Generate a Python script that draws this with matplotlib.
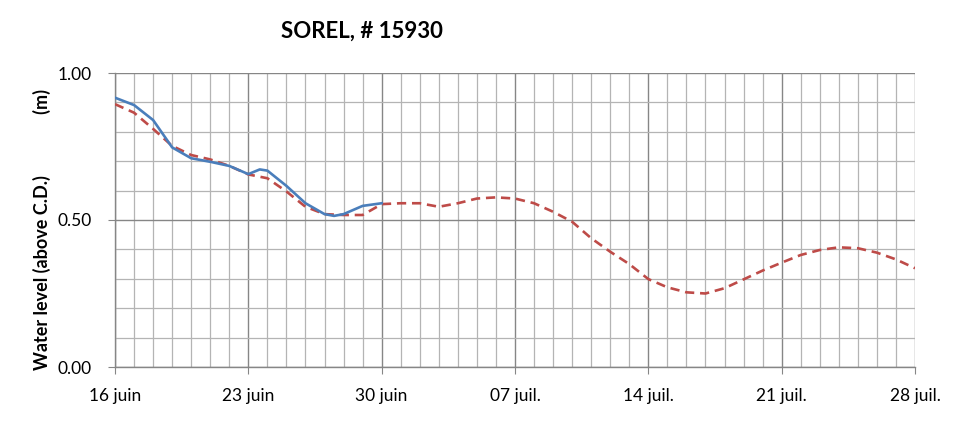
import numpy as np
import matplotlib
matplotlib.use("Agg")
import matplotlib.pyplot as plt
from matplotlib.ticker import MultipleLocator, FixedLocator

# days counted from 16 juin
obs_days = [0, 1, 2, 3, 4, 5, 6, 7, 7.6, 8, 9, 10, 11, 11.5, 12, 13, 14]
obs_level = [0.916, 0.891, 0.84, 0.747, 0.71, 0.698, 0.684, 0.656, 0.672, 0.668,
             0.616, 0.557, 0.52, 0.514, 0.52, 0.548, 0.557]

pred_days = list(range(0, 43))
pred_level = [0.894, 0.865, 0.81, 0.752, 0.721, 0.706, 0.684, 0.655, 0.642, 0.597,
              0.545, 0.52, 0.517, 0.517, 0.554, 0.557, 0.557, 0.545, 0.557, 0.573,
              0.577, 0.573, 0.557, 0.528, 0.494, 0.438, 0.392, 0.35, 0.299, 0.271,
              0.254, 0.25, 0.268, 0.298, 0.328, 0.355, 0.381, 0.398, 0.407, 0.404,
              0.389, 0.366, 0.336]

tick_days = [0, 7, 14, 21, 28, 35, 42]
tick_labels = ["16 juin", "23 juin", "30 juin", "07 juil.", "14 juil.", "21 juil.", "28 juil."]

plt.rcParams['font.family'] = ['Lato', 'DejaVu Sans']

fig = plt.figure(figsize=(9.69, 4.21), dpi=100)
ax = fig.add_axes([115 / 969, 54 / 421, 800 / 969, 294 / 421])

ax.plot(pred_days, pred_level, color="#BE4B48", lw=1.9, ls=(0, (3.5, 2.2)), zorder=3)
ax.plot(obs_days, obs_level, color="#4A7EBB", lw=1.9, zorder=4)

ax.set_xlim(0, 42)
ax.set_ylim(0, 1.0)

ax.xaxis.set_major_locator(FixedLocator(tick_days))
ax.set_xticklabels(tick_labels)
ax.xaxis.set_minor_locator(MultipleLocator(1))
ax.yaxis.set_major_locator(FixedLocator([0, 0.5, 1.0]))
ax.set_yticklabels(["0.00", "0.50", "1.00"])
ax.yaxis.set_minor_locator(MultipleLocator(0.1))

ax.grid(which="minor", color="#B4B4B4", lw=0.9)
ax.grid(which="major", color="#868686", lw=1.0)
ax.set_axisbelow(True)

for s in ["top", "right"]:
    ax.spines[s].set_visible(False)
for s in ["left", "bottom"]:
    ax.spines[s].set_color("#868686")
    ax.spines[s].set_linewidth(1.0)

ax.tick_params(which="major", length=5, color="#868686", labelsize=12.5)
ax.tick_params(which="minor", length=0)
ax.tick_params(axis="x", pad=10)
ax.tick_params(axis="y", pad=12)

fig.text(362 / 969, 1 - 31 / 421, "SOREL, # 15930", ha="center", va="center",
         fontsize=16, fontweight="bold")
fig.text(42 / 969, 1 - 229 / 421, "Water level (above C.D.)              (m)",
         rotation=90, ha="center", va="center", fontsize=13, fontweight="bold")

fig.savefig("out.png", dpi=100)
